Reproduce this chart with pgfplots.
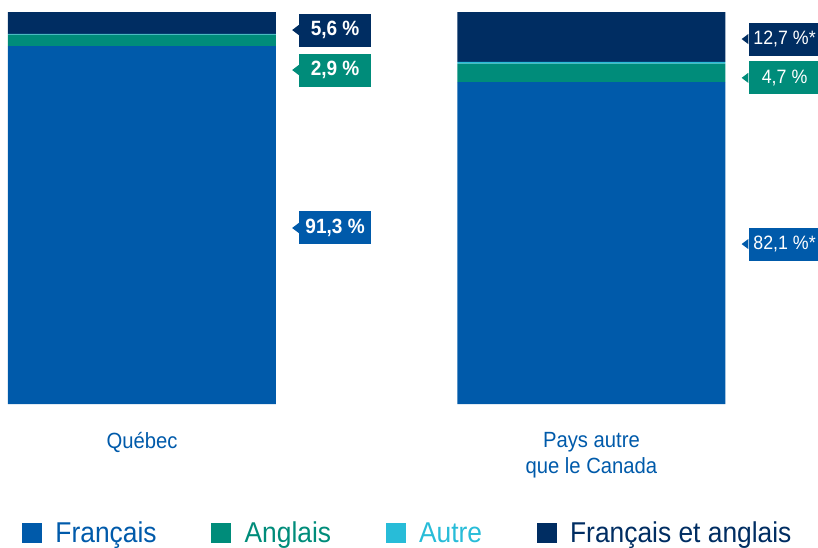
\documentclass[border=0pt]{standalone}
\usepackage{pgfplots}
\pgfplotsset{compat=1.18}
\usepackage{fontspec}
\setmainfont{Liberation Sans}[FakeStretch=0.92]
\definecolor{fblue}{RGB}{0,90,170}
\definecolor{teal}{RGB}{0,140,122}
\definecolor{cyanx}{RGB}{40,188,216}
\definecolor{navy}{RGB}{0,45,98}

% callout box at a named coordinate: coordinate, colour, text
\newcommand{\callout}[3]{%
  \node[fill=#2, text=white, anchor=west, minimum width=54pt, minimum height=24.75pt,
        inner sep=0pt, font=\fontsize{15.5}{18}\selectfont] (c) at (#1) {#3};
  \fill[#2] ([yshift=3.8pt]c.west) -- ([xshift=-5pt]c.west) -- ([yshift=-3.8pt]c.west) -- cycle;
}

\begin{document}
\begin{tikzpicture}
\useasboundingbox (-6pt,-107.25pt) rectangle (607.5pt,303pt);
\begin{axis}[
    at={(0,0)}, anchor=south west,
    scale only axis,
    width=607.5pt, height=294pt,
    ybar stacked,
    bar width=201pt,
    xmin=-0.298, xmax=1.504,
    ymin=0, ymax=100,
    axis line style={draw=none},
    ytick=\empty,
    xtick={0,1},
    xticklabels={Québec, {Pays autre\\que le Canada}},
    major tick length=0pt,
    xticklabel style={font=\fontsize{16.5}{19.5}\selectfont, text=fblue, align=center, yshift=-18pt},
    clip=false,
    legend columns=4,
    legend style={draw=none, fill=none, at={(0.494,-0.330)}, anchor=center,
        font=\fontsize{21.5}{25}\selectfont,
        /tikz/every odd column/.append style={column sep=8pt},
        /tikz/every even column/.append style={column sep=39pt}},
    legend image code/.code={\fill[#1] (0pt,-7.5pt) rectangle (15pt,7.5pt);},
]
\addplot[fill=fblue, draw=none] coordinates {(0,91.3) (1,82.1)};
\addlegendentry{\textcolor{fblue}{Français}}
\addplot[fill=teal, draw=none] coordinates {(0,2.9) (1,4.7)};
\addlegendentry{\textcolor{teal}{Anglais}}
\addplot[fill=cyanx, draw=none] coordinates {(0,0.2) (1,0.5)};
\addlegendentry{\textcolor{cyanx}{Autre}}
\addplot[fill=navy, draw=none] coordinates {(0,5.6) (1,12.7)};
\addlegendentry{\textcolor{navy}{Français et anglais}}

\coordinate (q1) at (axis cs:0.349,95.4);
\coordinate (q2) at (axis cs:0.349,85.2);
\coordinate (q3) at (axis cs:0.349,44.9);
\coordinate (p1) at (axis cs:1.349,93.1);
\coordinate (p2) at (axis cs:1.349,83.2);
\coordinate (p3) at (axis cs:1.349,40.8);
\end{axis}
\callout{q1}{navy}{\bfseries 5,6 \%}
\callout{q2}{teal}{\bfseries 2,9 \%}
\callout{q3}{fblue}{\bfseries 91,3 \%}
\callout{p1}{navy}{\fontsize{14.5}{17}\selectfont 12,7 \%*}
\callout{p2}{teal}{\fontsize{14.5}{17}\selectfont 4,7 \%}
\callout{p3}{fblue}{\fontsize{14.5}{17}\selectfont 82,1 \%*}
\end{tikzpicture}
\end{document}
